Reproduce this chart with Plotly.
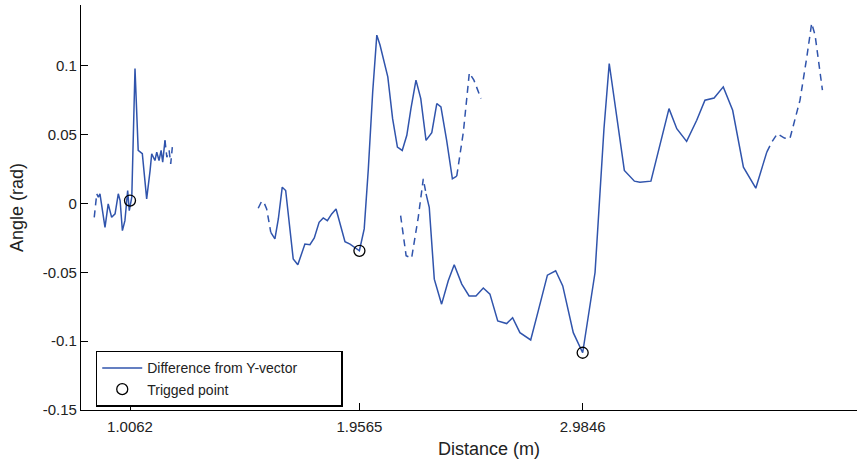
import plotly.graph_objects as go

# ---- data (distance in m, angle in rad) ----
seg1_x = [0.850, 0.861, 0.868, 0.875, 0.883, 0.897, 0.911, 0.926, 0.941, 0.955,
          0.963, 0.973, 0.984, 0.996, 1.003, 1.014, 1.028, 1.042, 1.060, 1.079,
          1.094, 1.101, 1.115, 1.123, 1.133, 1.142, 1.149, 1.159, 1.167, 1.177,
          1.184, 1.191]
seg1_y = [-0.0100, 0.0071, 0.0046, 0.0071, -0.0027, -0.0173, -0.0002, -0.0100, -0.0075, 0.0071,
          0.0022, -0.0197, -0.0124, 0.0095, -0.0051, 0.0046, 0.0982, 0.0386, 0.0362, 0.0034,
          0.0241, 0.0362, 0.0313, 0.0374, 0.0313, 0.0386, 0.0301, 0.0459, 0.0337, 0.0386,
          0.0289, 0.0410]

seg2_x = [1.566, 1.581, 1.591, 1.603, 1.621, 1.639, 1.654, 1.671, 1.686, 1.719,
          1.739, 1.770, 1.792, 1.811, 1.832, 1.850, 1.868, 1.887, 1.906, 1.945,
          1.967, 2.008, 2.029, 2.047, 2.066, 2.084, 2.098, 2.132, 2.153, 2.174,
          2.195, 2.215, 2.233, 2.255, 2.276, 2.299, 2.324, 2.346, 2.364, 2.389,
          2.414, 2.433, 2.462, 2.488, 2.508, 2.539]
seg2_y = [-0.0034, 0.0017, 0.0009, -0.0039, -0.0209, -0.0257, -0.0112, 0.0119, 0.0095, -0.0403,
          -0.0445, -0.0294, -0.0299, -0.0250, -0.0136, -0.0104, -0.0124, -0.0075, -0.0039, -0.0277,
          -0.0294, -0.0343, -0.0184, 0.0253, 0.0811, 0.1224, 0.1152, 0.0921, 0.0617, 0.0410,
          0.0386, 0.0496, 0.0690, 0.0897, 0.0763, 0.0459, 0.0515, 0.0727, 0.0702, 0.0459,
          0.0180, 0.0199, 0.0520, 0.0950, 0.0897, 0.0763]

seg3_x = [2.188, 2.212, 2.236, 2.265, 2.287, 2.299, 2.313, 2.335, 2.367, 2.396,
          2.422, 2.455, 2.487, 2.517, 2.549, 2.578, 2.612, 2.651, 2.677, 2.709,
          2.756, 2.789, 2.829, 2.865, 2.896, 2.942, 2.983, 3.037, 3.076, 3.099,
          3.132, 3.165, 3.209, 3.233, 3.281, 3.321, 3.360, 3.394, 3.437, 3.481,
          3.517, 3.557, 3.597, 3.638, 3.685, 3.739, 3.787, 3.809, 3.833, 3.864,
          3.888, 3.932, 3.961, 3.983, 3.998, 4.030]
seg3_y = [-0.0087, -0.0379, -0.0396, -0.0100, 0.0180, 0.0071, -0.0027, -0.0549, -0.0731, -0.0561,
          -0.0445, -0.0585, -0.0671, -0.0671, -0.0614, -0.0658, -0.0853, -0.0872, -0.0829, -0.0938,
          -0.0991, -0.0780, -0.0520, -0.0488, -0.0598, -0.0938, -0.1084, -0.0501, 0.0544, 0.1018,
          0.0617, 0.0241, 0.0163, 0.0155, 0.0163, 0.0435, 0.0690, 0.0544, 0.0452, 0.0605,
          0.0751, 0.0767, 0.0848, 0.0678, 0.0265, 0.0112, 0.0374, 0.0447, 0.0508, 0.0476,
          0.0472, 0.0751, 0.1055, 0.1310, 0.1224, 0.0824]

# number of leading dashed points / index where trailing dashed part starts
seg_head = [1, 4, 5]
seg_tail = [27, 41, 46]

trig_x = [1.0062, 2.008, 2.983]
trig_y = [0.0022, -0.0343, -0.1084]
trig_labels = ["1.0062", "1.9565", "2.9846"]

y_ticks = [-0.15, -0.1, -0.05, 0, 0.05, 0.1]
y_labels = ["-0.15", "-0.1", "-0.05", "0", "0.05", "0.1"]

BLUE = "rgb(48,84,172)"
FONT = "Liberation Sans, Arial, sans-serif"

fig = go.Figure()
segs = [(seg1_x, seg1_y), (seg2_x, seg2_y), (seg3_x, seg3_y)]
first = True
for (sx, sy), h, t in zip(segs, seg_head, seg_tail):
    fig.add_trace(go.Scatter(x=sx[h:t + 1], y=sy[h:t + 1], mode="lines",
                             line=dict(color=BLUE, width=1.5),
                             name="Difference from Y-vector" + "\u00a0" * 10,
                             showlegend=first, hoverinfo="skip"))
    first = False
    fig.add_trace(go.Scatter(x=sx[:h + 1], y=sy[:h + 1], mode="lines",
                             line=dict(color=BLUE, width=1.5, dash="7px,5px"),
                             showlegend=False, hoverinfo="skip"))
    fig.add_trace(go.Scatter(x=sx[t:], y=sy[t:], mode="lines",
                             line=dict(color=BLUE, width=1.5, dash="7px,5px"),
                             showlegend=False, hoverinfo="skip"))

fig.add_trace(go.Scatter(x=trig_x, y=trig_y, mode="markers",
                         marker=dict(symbol="circle-open", size=11, color="black",
                                     line=dict(width=1.3, color="black")),
                         name="Trigged point"))

fig.update_layout(
    width=857, height=464,
    margin=dict(l=81, r=0, t=5, b=54),
    paper_bgcolor="white", plot_bgcolor="white",
    font=dict(family=FONT, size=15, color="#222"),
    legend=dict(x=0.019, y=0.146, xanchor="left", yanchor="top",
                bordercolor="black", borderwidth=1.5, bgcolor="white",
                font=dict(size=14), tracegroupgap=0, itemwidth=40),
    annotations=[dict(text="Distance (m)", xref="paper", yref="paper",
                      x=0.526, y=-0.0963, xanchor="center", yanchor="middle",
                      showarrow=False, font=dict(size=18, color="#222"))],
)
fig.update_xaxes(range=[0.7922, 4.1810], showgrid=False, zeroline=False,
                 showline=True, linecolor="black", linewidth=1.2,
                 ticks="inside", ticklen=7, tickcolor="black", tickwidth=1.2,
                 ticklabelstandoff=3,
                 tickvals=trig_x, ticktext=trig_labels)
fig.update_yaxes(range=[-0.15, 0.1443], showgrid=False, zeroline=False,
                 showline=True, linecolor="black", linewidth=1.2,
                 ticks="inside", ticklen=7, tickcolor="black", tickwidth=1.2,
                 ticksuffix="\u00a0",
                 tickvals=y_ticks, ticktext=y_labels,
                 title=dict(text="Angle (rad)", font=dict(size=18), standoff=14))

fig.write_html("out.html")
